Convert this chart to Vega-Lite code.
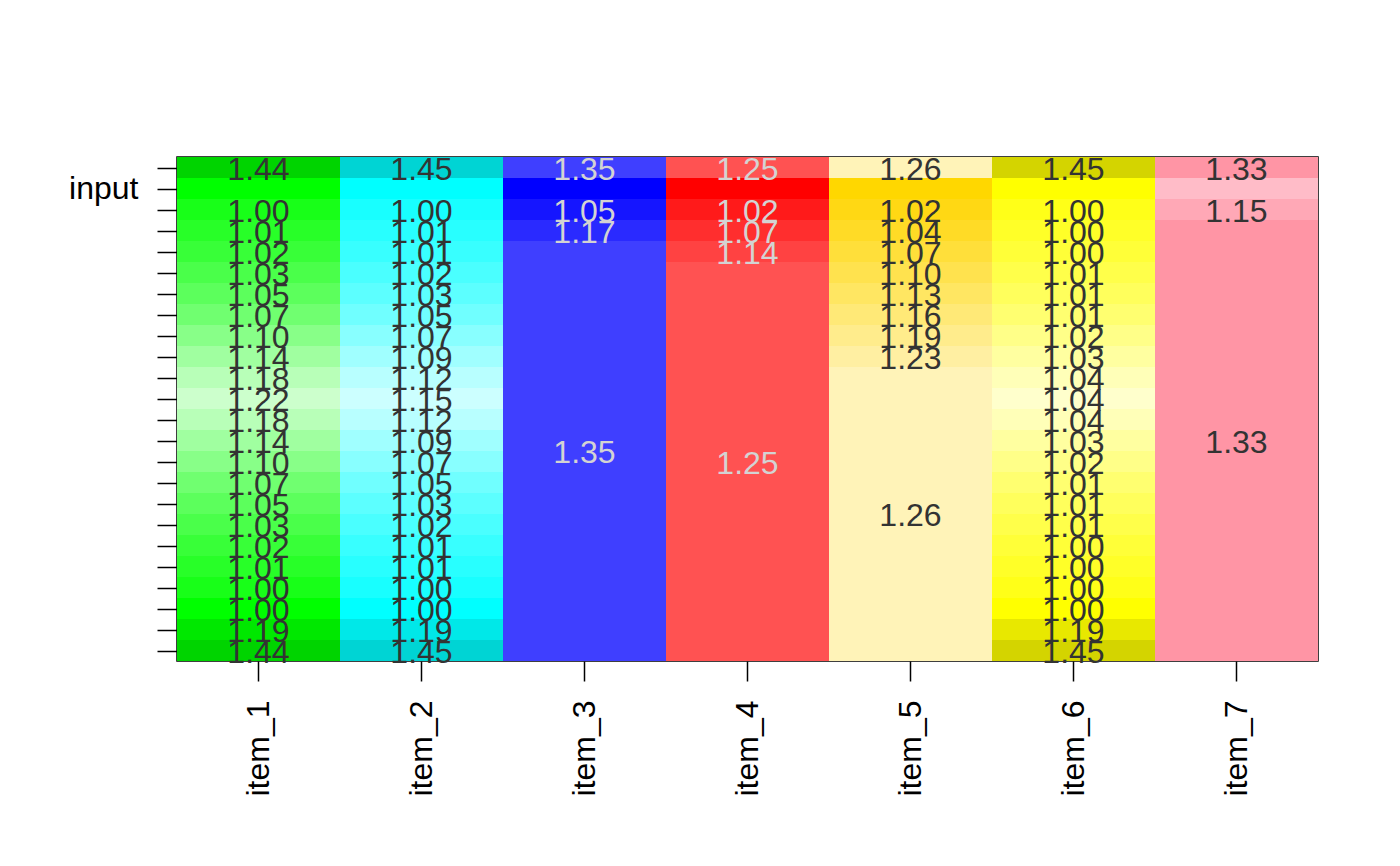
{
  "$schema": "https://vega.github.io/schema/vega-lite/v6.json",
  "width": 1141,
  "height": 504,
  "autosize": {"type": "none"},
  "padding": {"left": 177, "top": 157, "right": 82, "bottom": 205},
  "background": "white",
  "config": {
    "view": {"stroke": "black", "strokeWidth": 1.5},
    "font": "Liberation Sans",
    "axis": {"domain": false, "grid": false, "tickColor": "black", "tickWidth": 1.5, "labelColor": "black", "labelFont": "Liberation Sans", "labelFontSize": 32, "title": null}
  },
  "data": {
    "values": [
      {"item": "item_1", "r0": 0, "r1": 1, "label": "1.44", "shade": "gd"},
      {"item": "item_1", "r0": 1, "r1": 2, "label": null, "shade": "g0"},
      {"item": "item_1", "r0": 2, "r1": 3, "label": "1.00", "shade": "g1"},
      {"item": "item_1", "r0": 3, "r1": 4, "label": "1.01", "shade": "g2"},
      {"item": "item_1", "r0": 4, "r1": 5, "label": "1.02", "shade": "g3"},
      {"item": "item_1", "r0": 5, "r1": 6, "label": "1.03", "shade": "g4"},
      {"item": "item_1", "r0": 6, "r1": 7, "label": "1.05", "shade": "g5"},
      {"item": "item_1", "r0": 7, "r1": 8, "label": "1.07", "shade": "g6"},
      {"item": "item_1", "r0": 8, "r1": 9, "label": "1.10", "shade": "g7"},
      {"item": "item_1", "r0": 9, "r1": 10, "label": "1.14", "shade": "g8"},
      {"item": "item_1", "r0": 10, "r1": 11, "label": "1.18", "shade": "g9"},
      {"item": "item_1", "r0": 11, "r1": 12, "label": "1.22", "shade": "g10"},
      {"item": "item_1", "r0": 12, "r1": 13, "label": "1.18", "shade": "g9"},
      {"item": "item_1", "r0": 13, "r1": 14, "label": "1.14", "shade": "g8"},
      {"item": "item_1", "r0": 14, "r1": 15, "label": "1.10", "shade": "g7"},
      {"item": "item_1", "r0": 15, "r1": 16, "label": "1.07", "shade": "g6"},
      {"item": "item_1", "r0": 16, "r1": 17, "label": "1.05", "shade": "g5"},
      {"item": "item_1", "r0": 17, "r1": 18, "label": "1.03", "shade": "g4"},
      {"item": "item_1", "r0": 18, "r1": 19, "label": "1.02", "shade": "g3"},
      {"item": "item_1", "r0": 19, "r1": 20, "label": "1.01", "shade": "g2"},
      {"item": "item_1", "r0": 20, "r1": 21, "label": "1.00", "shade": "g1"},
      {"item": "item_1", "r0": 21, "r1": 22, "label": "1.00", "shade": "g0"},
      {"item": "item_1", "r0": 22, "r1": 23, "label": "1.19", "shade": "gm"},
      {"item": "item_1", "r0": 23, "r1": 24, "label": "1.44", "shade": "gd"},

      {"item": "item_2", "r0": 0, "r1": 1, "label": "1.45", "shade": "cd"},
      {"item": "item_2", "r0": 1, "r1": 2, "label": null, "shade": "c0"},
      {"item": "item_2", "r0": 2, "r1": 3, "label": "1.00", "shade": "c1"},
      {"item": "item_2", "r0": 3, "r1": 4, "label": "1.01", "shade": "c2"},
      {"item": "item_2", "r0": 4, "r1": 5, "label": "1.01", "shade": "c3"},
      {"item": "item_2", "r0": 5, "r1": 6, "label": "1.02", "shade": "c4"},
      {"item": "item_2", "r0": 6, "r1": 7, "label": "1.03", "shade": "c5"},
      {"item": "item_2", "r0": 7, "r1": 8, "label": "1.05", "shade": "c6"},
      {"item": "item_2", "r0": 8, "r1": 9, "label": "1.07", "shade": "c7"},
      {"item": "item_2", "r0": 9, "r1": 10, "label": "1.09", "shade": "c8"},
      {"item": "item_2", "r0": 10, "r1": 11, "label": "1.12", "shade": "c9"},
      {"item": "item_2", "r0": 11, "r1": 12, "label": "1.15", "shade": "c10"},
      {"item": "item_2", "r0": 12, "r1": 13, "label": "1.12", "shade": "c9"},
      {"item": "item_2", "r0": 13, "r1": 14, "label": "1.09", "shade": "c8"},
      {"item": "item_2", "r0": 14, "r1": 15, "label": "1.07", "shade": "c7"},
      {"item": "item_2", "r0": 15, "r1": 16, "label": "1.05", "shade": "c6"},
      {"item": "item_2", "r0": 16, "r1": 17, "label": "1.03", "shade": "c5"},
      {"item": "item_2", "r0": 17, "r1": 18, "label": "1.02", "shade": "c4"},
      {"item": "item_2", "r0": 18, "r1": 19, "label": "1.01", "shade": "c3"},
      {"item": "item_2", "r0": 19, "r1": 20, "label": "1.01", "shade": "c2"},
      {"item": "item_2", "r0": 20, "r1": 21, "label": "1.00", "shade": "c1"},
      {"item": "item_2", "r0": 21, "r1": 22, "label": "1.00", "shade": "c0"},
      {"item": "item_2", "r0": 22, "r1": 23, "label": "1.19", "shade": "cm"},
      {"item": "item_2", "r0": 23, "r1": 24, "label": "1.45", "shade": "cd"},

      {"item": "item_3", "r0": 0, "r1": 1, "label": "1.35", "shade": "bb"},
      {"item": "item_3", "r0": 1, "r1": 2, "label": null, "shade": "b0"},
      {"item": "item_3", "r0": 2, "r1": 3, "label": "1.05", "shade": "b1"},
      {"item": "item_3", "r0": 3, "r1": 4, "label": "1.17", "shade": "b2"},
      {"item": "item_3", "r0": 4, "r1": 24, "label": "1.35", "shade": "bb"},

      {"item": "item_4", "r0": 0, "r1": 1, "label": "1.25", "shade": "rb"},
      {"item": "item_4", "r0": 1, "r1": 2, "label": null, "shade": "r0"},
      {"item": "item_4", "r0": 2, "r1": 3, "label": "1.02", "shade": "r1"},
      {"item": "item_4", "r0": 3, "r1": 4, "label": "1.07", "shade": "r2"},
      {"item": "item_4", "r0": 4, "r1": 5, "label": "1.14", "shade": "r3"},
      {"item": "item_4", "r0": 5, "r1": 24, "label": "1.25", "shade": "rb"},

      {"item": "item_5", "r0": 0, "r1": 1, "label": "1.26", "shade": "ob"},
      {"item": "item_5", "r0": 1, "r1": 2, "label": null, "shade": "o0"},
      {"item": "item_5", "r0": 2, "r1": 3, "label": "1.02", "shade": "o1"},
      {"item": "item_5", "r0": 3, "r1": 4, "label": "1.04", "shade": "o2"},
      {"item": "item_5", "r0": 4, "r1": 5, "label": "1.07", "shade": "o3"},
      {"item": "item_5", "r0": 5, "r1": 6, "label": "1.10", "shade": "o4"},
      {"item": "item_5", "r0": 6, "r1": 7, "label": "1.13", "shade": "o5"},
      {"item": "item_5", "r0": 7, "r1": 8, "label": "1.16", "shade": "o6"},
      {"item": "item_5", "r0": 8, "r1": 9, "label": "1.19", "shade": "o7"},
      {"item": "item_5", "r0": 9, "r1": 10, "label": "1.23", "shade": "o8"},
      {"item": "item_5", "r0": 10, "r1": 24, "label": "1.26", "shade": "ob"},

      {"item": "item_6", "r0": 0, "r1": 1, "label": "1.45", "shade": "yd"},
      {"item": "item_6", "r0": 1, "r1": 2, "label": null, "shade": "y0"},
      {"item": "item_6", "r0": 2, "r1": 3, "label": "1.00", "shade": "y1"},
      {"item": "item_6", "r0": 3, "r1": 4, "label": "1.00", "shade": "y2"},
      {"item": "item_6", "r0": 4, "r1": 5, "label": "1.00", "shade": "y3"},
      {"item": "item_6", "r0": 5, "r1": 6, "label": "1.01", "shade": "y4"},
      {"item": "item_6", "r0": 6, "r1": 7, "label": "1.01", "shade": "y5"},
      {"item": "item_6", "r0": 7, "r1": 8, "label": "1.01", "shade": "y6"},
      {"item": "item_6", "r0": 8, "r1": 9, "label": "1.02", "shade": "y7"},
      {"item": "item_6", "r0": 9, "r1": 10, "label": "1.03", "shade": "y8"},
      {"item": "item_6", "r0": 10, "r1": 11, "label": "1.04", "shade": "y9"},
      {"item": "item_6", "r0": 11, "r1": 12, "label": "1.04", "shade": "y10"},
      {"item": "item_6", "r0": 12, "r1": 13, "label": "1.04", "shade": "y9"},
      {"item": "item_6", "r0": 13, "r1": 14, "label": "1.03", "shade": "y8"},
      {"item": "item_6", "r0": 14, "r1": 15, "label": "1.02", "shade": "y7"},
      {"item": "item_6", "r0": 15, "r1": 16, "label": "1.01", "shade": "y6"},
      {"item": "item_6", "r0": 16, "r1": 17, "label": "1.01", "shade": "y5"},
      {"item": "item_6", "r0": 17, "r1": 18, "label": "1.01", "shade": "y4"},
      {"item": "item_6", "r0": 18, "r1": 19, "label": "1.00", "shade": "y3"},
      {"item": "item_6", "r0": 19, "r1": 20, "label": "1.00", "shade": "y2"},
      {"item": "item_6", "r0": 20, "r1": 21, "label": "1.00", "shade": "y1"},
      {"item": "item_6", "r0": 21, "r1": 22, "label": "1.00", "shade": "y0"},
      {"item": "item_6", "r0": 22, "r1": 23, "label": "1.19", "shade": "ym"},
      {"item": "item_6", "r0": 23, "r1": 24, "label": "1.45", "shade": "yd"},

      {"item": "item_7", "r0": 0, "r1": 1, "label": "1.33", "shade": "pb"},
      {"item": "item_7", "r0": 1, "r1": 2, "label": null, "shade": "p0"},
      {"item": "item_7", "r0": 2, "r1": 3, "label": "1.15", "shade": "p1"},
      {"item": "item_7", "r0": 3, "r1": 24, "label": "1.33", "shade": "pb"}
    ]
  },
  "transform": [{"calculate": "(datum.r0 + datum.r1) / 2", "as": "mid"}],
  "encoding": {
    "x": {
      "field": "item", "type": "nominal",
      "scale": {"paddingInner": 0, "paddingOuter": 0},
      "axis": {"labelAngle": -90, "labelAlign": "right", "labelBaseline": "middle", "tickSize": 20, "labelPadding": 19}
    }
  },
  "layer": [
    {
      "mark": {"type": "rect", "strokeWidth": 0},
      "encoding": {
        "y": {
          "field": "r0", "type": "quantitative",
          "scale": {"domain": [0, 24], "reverse": true, "nice": false, "zero": false},
          "axis": {
            "values": [0.5, 1.5, 2.5, 3.5, 4.5, 5.5, 6.5, 7.5, 8.5, 9.5, 10.5, 11.5, 12.5, 13.5, 14.5, 15.5, 16.5, 17.5, 18.5, 19.5, 20.5, 21.5, 22.5, 23.5],
            "tickCount": 48,
            "labelOverlap": false,
            "labelExpr": "datum.value == 1.5 ? 'input' : ''",
            "tickSize": 20, "labelPadding": 19, "labelBaseline": "middle"
          }
        },
        "y2": {"field": "r1"},
        "color": {
          "field": "shade", "type": "nominal", "legend": null,
          "scale": {
            "domain": ["g0","g1","g2","g3","g4","g5","g6","g7","g8","g9","g10","gm","gd",
                       "c0","c1","c2","c3","c4","c5","c6","c7","c8","c9","c10","cm","cd",
                       "y0","y1","y2","y3","y4","y5","y6","y7","y8","y9","y10","ym","yd",
                       "bb","b0","b1","b2",
                       "rb","r0","r1","r2","r3",
                       "ob","o0","o1","o2","o3","o4","o5","o6","o7","o8",
                       "pb","p0","p1"],
            "range": ["#00ff00","#18ff18","#28ff28","#38ff38","#4aff4a","#5cff5c","#70ff70","#88ff88","#a0ffa0","#b8ffb8","#ccffcc","#00e800","#00d400",
                      "#00ffff","#18ffff","#28ffff","#38ffff","#4affff","#5cffff","#70ffff","#88ffff","#a0ffff","#b8ffff","#ccffff","#00e8e8","#00d4d4",
                      "#ffff00","#ffff18","#ffff28","#ffff38","#ffff4a","#ffff5c","#ffff70","#ffff88","#ffffa0","#ffffb8","#ffffcc","#e8e800","#d4d400",
                      "#3f3fff","#0000ff","#1515ff","#2a2aff",
                      "#ff5252","#ff0000","#ff1a1a","#ff2e2e","#ff4242",
                      "#fff3b8","#ffd700","#ffd814","#ffdb26","#ffdf3a","#ffe24e","#ffe662","#ffe977","#ffec8c","#ffefa2",
                      "#ff95a5","#ffbcc8","#ffa8b6"]
          }
        }
      }
    },
    {
      "transform": [{"filter": "datum.label != null"}],
      "mark": {"type": "text", "fontSize": 32, "font": "Liberation Sans", "baseline": "middle", "align": "center", "dy": 2},
      "encoding": {
        "y": {"field": "mid", "type": "quantitative"},
        "text": {"field": "label"},
        "color": {
          "condition": {"test": "datum.item == 'item_3' || datum.item == 'item_4'", "value": "#d3d3d3"},
          "value": "#333333"
        }
      }
    }
  ]
}
